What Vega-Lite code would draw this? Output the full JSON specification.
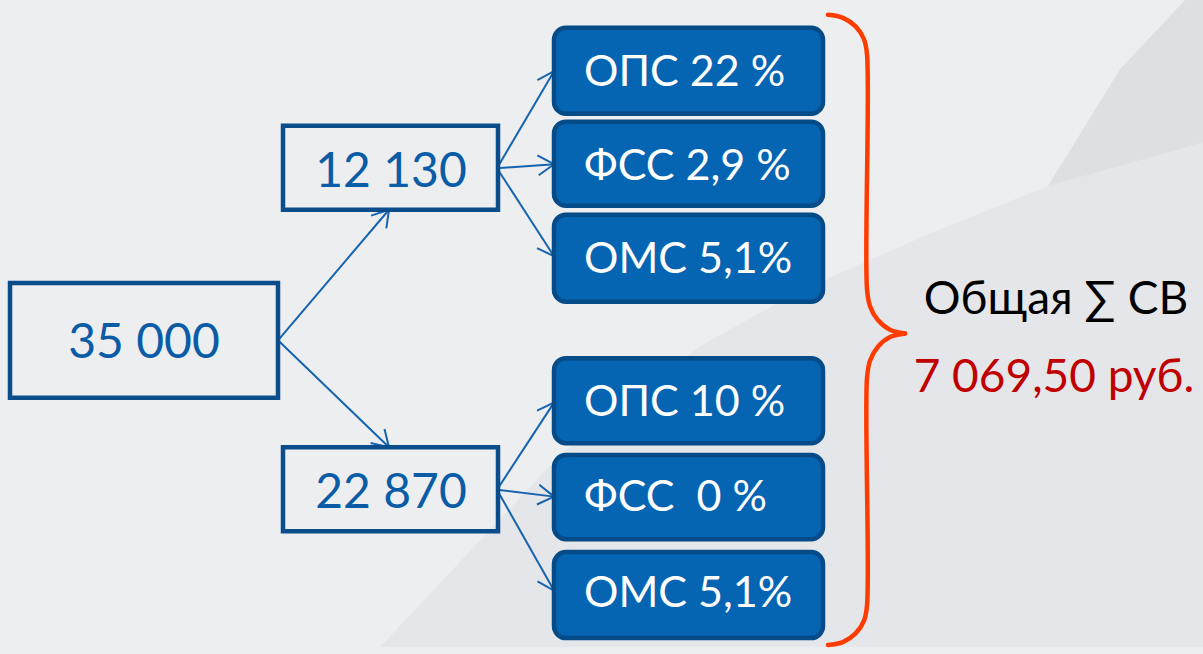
{
  "$schema": "https://vega.github.io/schema/vega-lite/v6.json",
  "width": 1203,
  "height": 654,
  "autosize": {"type": "fit", "contains": "padding"},
  "padding": 0,
  "background": "#edeef0",
  "config": {"view": {"stroke": null}},
  "datasets": {
    "bgDiag": [
      {"y": 0, "xa": 1185, "xb": 1203},
      {"y": 70, "xa": 1120, "xb": 1203},
      {"y": 188, "xa": 1048, "xb": 1203},
      {"y": 290, "xa": 990, "xb": 1203},
      {"y": 400, "xa": 930, "xb": 1203},
      {"y": 520, "xa": 880, "xb": 1203},
      {"y": 654, "xa": 843, "xb": 1203}
    ],
    "bgLow": [
      {"x": 380, "y": 654, "y2": 654},
      {"x": 560, "y": 460, "y2": 654},
      {"x": 700, "y": 350, "y2": 654},
      {"x": 800, "y": 294, "y2": 654},
      {"x": 930, "y": 236, "y2": 654},
      {"x": 1048, "y": 188, "y2": 654},
      {"x": 1203, "y": 144, "y2": 654}
    ],
    "plainBoxes": [
      {"box": "35 000", "x": 10, "x2": 278, "y": 286, "y2": 402},
      {"box": "12 130", "x": 283, "x2": 498, "y": 127, "y2": 212},
      {"box": "22 870", "x": 283, "x2": 498, "y": 452, "y2": 537}
    ],
    "blueBoxes": [
      {"box": "ОПС 22 %", "x": 554, "x2": 823, "y": 28, "y2": 115},
      {"box": "ФСС 2,9 %", "x": 554, "x2": 823, "y": 123, "y2": 208},
      {"box": "ОМС 5,1% a", "x": 554, "x2": 823, "y": 217, "y2": 305},
      {"box": "ОПС 10 %", "x": 554, "x2": 823, "y": 362, "y2": 448},
      {"box": "ФСС 0 %", "x": 554, "x2": 823, "y": 460, "y2": 545},
      {"box": "ОМС 5,1% b", "x": 554, "x2": 823, "y": 558, "y2": 645}
    ],
    "arrows": [
      {"a": "A", "x": 278, "y": 344, "x2": 389, "y2": 212, "ang": -50.0},
      {"a": "B", "x": 278, "y": 344, "x2": 389, "y2": 452, "ang": 44.3},
      {"a": "C", "x": 497, "y": 170, "x2": 554, "y2": 72, "ang": -59.8},
      {"a": "D", "x": 497, "y": 170, "x2": 554, "y2": 166, "ang": -4.0},
      {"a": "E", "x": 497, "y": 170, "x2": 554, "y2": 259, "ang": 57.4},
      {"a": "F", "x": 497, "y": 495, "x2": 554, "y2": 407, "ang": -57.1},
      {"a": "G", "x": 497, "y": 495, "x2": 554, "y2": 502, "ang": 7.0},
      {"a": "H", "x": 497, "y": 495, "x2": 554, "y2": 597, "ang": 60.8}
    ],
    "brace": [
      {"part": "top", "o": 1, "x": 828, "y": 15},
      {"part": "top", "o": 2, "x": 842.9, "y": 18.0},
      {"part": "top", "o": 3, "x": 855.6, "y": 26.7},
      {"part": "top", "o": 4, "x": 864.0, "y": 39.7},
      {"part": "top", "o": 5, "x": 867, "y": 55},
      {"part": "top", "o": 6, "x": 867, "y": 292},
      {"part": "top", "o": 7, "x": 869.9, "y": 309.2},
      {"part": "top", "o": 8, "x": 878.1, "y": 323.8},
      {"part": "top", "o": 9, "x": 890.5, "y": 333.6},
      {"part": "top", "o": 10, "x": 905, "y": 337},
      {"part": "bottom", "o": 1, "x": 905, "y": 337},
      {"part": "bottom", "o": 2, "x": 890.5, "y": 340.4},
      {"part": "bottom", "o": 3, "x": 878.1, "y": 350.2},
      {"part": "bottom", "o": 4, "x": 869.9, "y": 364.8},
      {"part": "bottom", "o": 5, "x": 867, "y": 382},
      {"part": "bottom", "o": 6, "x": 867, "y": 612},
      {"part": "bottom", "o": 7, "x": 864.0, "y": 627.3},
      {"part": "bottom", "o": 8, "x": 855.6, "y": 640.3},
      {"part": "bottom", "o": 9, "x": 842.9, "y": 649.0},
      {"part": "bottom", "o": 10, "x": 828, "y": 652}
    ],
    "numbers": [
      {"label": "35 000", "x": 144, "y": 362},
      {"label": "12 130", "x": 391, "y": 189},
      {"label": "22 870", "x": 391, "y": 513}
    ],
    "boxLabels": [
      {"label": "ОПС 22 %", "x": 584, "y": 87},
      {"label": "ФСС 2,9 %", "x": 584, "y": 182},
      {"label": "ОМС 5,1%", "x": 584, "y": 276},
      {"label": "ОПС 10 %", "x": 584, "y": 420},
      {"label": "ФСС\u00a0 0 %", "x": 584, "y": 517},
      {"label": "ОМС 5,1%", "x": 584, "y": 614}
    ],
    "total": [
      {"label": "Общая ∑ СВ", "kind": "title", "x": 1056, "y": 317},
      {"label": "7 069,50 руб.", "kind": "value", "x": 1054, "y": 396}
    ]
  },
  "layer": [
    {
      "data": {"name": "bgDiag"},
      "mark": {"type": "area", "orient": "horizontal", "color": "#dedfe2"},
      "encoding": {
        "y": {"field": "y", "type": "quantitative", "scale": {"domain": [0, 654], "reverse": true, "nice": false, "zero": false}, "axis": null},
        "x": {"field": "xa", "type": "quantitative", "scale": {"domain": [0, 1203], "nice": false, "zero": false}, "axis": null},
        "x2": {"field": "xb"}
      }
    },
    {
      "data": {"name": "bgLow"},
      "mark": {"type": "area", "orient": "vertical", "color": "#e5e6e9"},
      "encoding": {
        "x": {"field": "x", "type": "quantitative"},
        "y": {"field": "y", "type": "quantitative"},
        "y2": {"field": "y2"}
      }
    },
    {
      "data": {"name": "arrows"},
      "mark": {"type": "rule", "color": "#1664b0", "strokeWidth": 2},
      "encoding": {
        "x": {"field": "x", "type": "quantitative"},
        "y": {"field": "y", "type": "quantitative"},
        "x2": {"field": "x2"},
        "y2": {"field": "y2"}
      }
    },
    {
      "data": {"name": "arrows"},
      "mark": {"type": "point", "shape": "M-1,-0.62L0,0L-1,0.62", "filled": false, "stroke": "#1664b0", "strokeWidth": 2, "size": 1024, "opacity": 1},
      "encoding": {
        "x": {"field": "x2", "type": "quantitative"},
        "y": {"field": "y2", "type": "quantitative"},
        "angle": {"field": "ang", "type": "quantitative", "scale": null}
      }
    },
    {
      "data": {"name": "plainBoxes"},
      "mark": {"type": "rect", "filled": false, "stroke": "#0b4d8a", "strokeWidth": 4.5},
      "encoding": {
        "x": {"field": "x", "type": "quantitative"},
        "x2": {"field": "x2"},
        "y": {"field": "y", "type": "quantitative"},
        "y2": {"field": "y2"}
      }
    },
    {
      "data": {"name": "blueBoxes"},
      "mark": {"type": "rect", "fill": "#0565b3", "stroke": "#054b88", "strokeWidth": 4.5, "cornerRadius": 12},
      "encoding": {
        "x": {"field": "x", "type": "quantitative"},
        "x2": {"field": "x2"},
        "y": {"field": "y", "type": "quantitative"},
        "y2": {"field": "y2"}
      }
    },
    {
      "data": {"name": "brace"},
      "mark": {"type": "line", "color": "#ff3c00", "strokeWidth": 4.5, "interpolate": "catmull-rom", "strokeCap": "round"},
      "encoding": {
        "x": {"field": "x", "type": "quantitative"},
        "y": {"field": "y", "type": "quantitative"},
        "detail": {"field": "part"},
        "order": {"field": "o", "type": "quantitative"}
      }
    },
    {
      "data": {"name": "numbers"},
      "mark": {"type": "text", "font": "Lato", "fontSize": 48, "color": "#0b5ca6", "align": "center", "baseline": "alphabetic"},
      "encoding": {
        "x": {"field": "x", "type": "quantitative"},
        "y": {"field": "y", "type": "quantitative"},
        "text": {"field": "label"}
      }
    },
    {
      "data": {"name": "boxLabels"},
      "mark": {"type": "text", "font": "Lato", "fontSize": 43, "color": "#ffffff", "align": "left", "baseline": "alphabetic"},
      "encoding": {
        "x": {"field": "x", "type": "quantitative"},
        "y": {"field": "y", "type": "quantitative"},
        "text": {"field": "label"}
      }
    },
    {
      "data": {"name": "total"},
      "mark": {"type": "text", "font": "Lato", "fontSize": 46, "align": "center", "baseline": "alphabetic"},
      "encoding": {
        "x": {"field": "x", "type": "quantitative"},
        "y": {"field": "y", "type": "quantitative"},
        "text": {"field": "label"},
        "color": {"field": "kind", "type": "nominal", "scale": {"domain": ["title", "value"], "range": ["#000000", "#c00000"]}, "legend": null}
      }
    }
  ]
}
